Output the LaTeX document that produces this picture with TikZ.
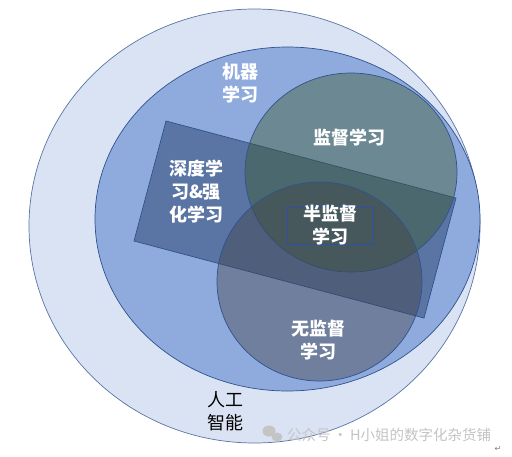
\documentclass[tikz,border=0pt]{standalone}
\usepackage{fontspec}
\newfontfamily\cjk{Noto Sans CJK SC}
\newfontfamily\dejavu{DejaVu Sans}
\definecolor{aifill}{HTML}{DAE3F3}
\definecolor{mlfill}{HTML}{8FAADC}
\definecolor{rectfill}{HTML}{1F3864}
\definecolor{supfill}{HTML}{385723}
\definecolor{unsupfill}{HTML}{404040}
\definecolor{edgeblue}{HTML}{2F528F}
\definecolor{boxblue}{HTML}{2E50A8}
\definecolor{wmgray}{HTML}{C4C4C4}
\tikzset{
  shapeline/.style={draw=edgeblue, line width=0.7pt},
  lbl/.style={text=white, align=center, font=\cjk\bfseries\fontsize{18}{23}\selectfont, inner sep=0pt},
  blacklbl/.style={text=black, align=center, font=\cjk\fontsize{18}{23}\selectfont, inner sep=0pt},
}
\begin{document}
\begin{tikzpicture}[x=1pt,y=-1pt]
\useasboundingbox (0,0) rectangle (512,456);
\fill[white] (0,0) rectangle (512,456);
% AI
\fill[aifill] (254.5,226) ellipse [x radius=225.5, y radius=217];
\draw[draw=edgeblue!80!white, line width=0.7pt] (254.5,226) ellipse [x radius=225.5, y radius=217];
% ML
\filldraw[shapeline, fill=mlfill] (287.5,219) ellipse [x radius=192.5, y radius=172];
% deep learning rectangle
\filldraw[shapeline, fill=rectfill, fill opacity=0.47] (166,121) -- (456,198) -- (424,318) -- (134,241) -- cycle;
% supervised
\filldraw[shapeline, fill=supfill, fill opacity=0.4] (351,172.5) ellipse [x radius=106, y radius=99.5];
% unsupervised
\filldraw[shapeline, fill=unsupfill, fill opacity=0.4] (319.5,281.5) ellipse [x radius=102.5, y radius=99.5];
% semi-supervised box
\draw[draw=boxblue, line width=0.8pt] (287,207) rectangle (373,244);
% labels
\node[lbl] (ml) at (240,83) {机器\\学习};
\node[lbl] (sup) at (349,138) {监督学习};
\node[lbl] (dl) at (196,192) {深度学\\习\&强\\化学习};
\node[lbl] (semi) at (330,225.5) {半监督\\学习};
\node[lbl] (unsup) at (318,340) {无监督\\学习};
\node[blacklbl] (ai) at (225,411) {人工\\智能};
% watermark
\fill[wmgray] (269,431) ellipse [x radius=6.5, y radius=5.5];
\fill[wmgray] (277,437) ellipse [x radius=5.5, y radius=4.5];
\node[text=wmgray, font=\cjk\fontsize{14.5}{16}\selectfont, inner sep=0pt, anchor=west] (wm) at (287,435) {公众号\,·\,H小姐的数字化杂货铺};
\node[text=gray, font=\dejavu\fontsize{8}{9}\selectfont, inner sep=0pt] (ret) at (498,449) {↵};
\end{tikzpicture}
\end{document}
